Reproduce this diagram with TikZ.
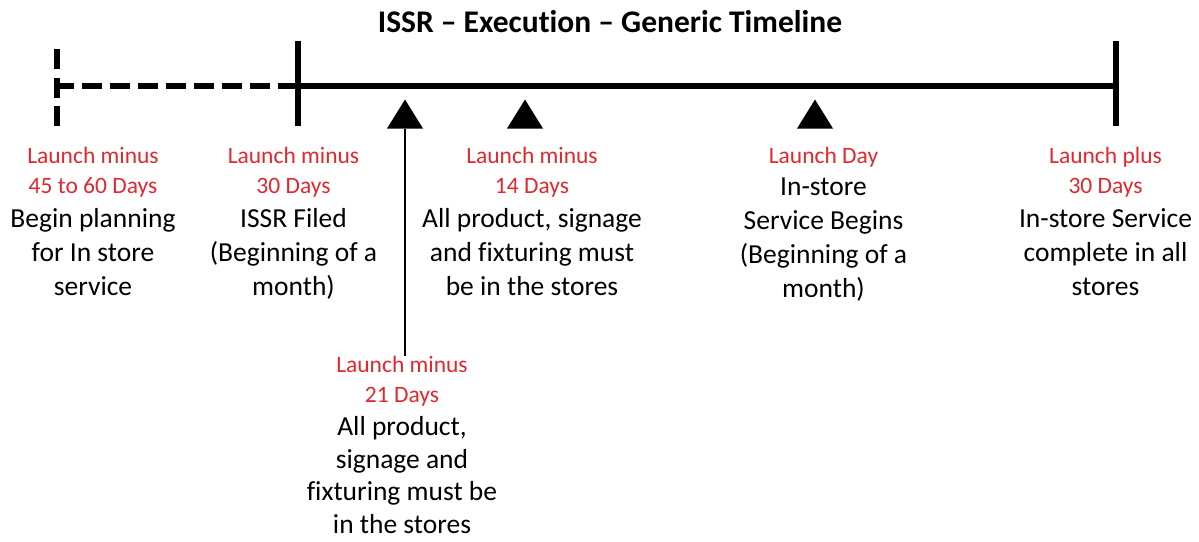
\documentclass[tikz,border=0pt]{standalone}
\usepackage{fontspec}
\setmainfont{Carlito}[Ligatures={TeX,NoCommon}]
\usetikzlibrary{positioning,shapes.geometric}
\definecolor{lred}{HTML}{E0282E}

\begin{document}
\begin{tikzpicture}[x=1pt,y=-1pt,node distance=10.5pt,
  axis/.style={line width=6.5pt},
  marker/.style={isosceles triangle,isosceles triangle stretches,shape border rotate=90,
    fill=black,inner sep=0pt,minimum width=36pt,minimum height=29pt},
  when/.style={text=lred,align=center,inner sep=0pt,font=\fontsize{23.5}{30}\selectfont},
  what/.style={align=center,inner sep=0pt,font=\fontsize{27.5}{34}\selectfont}]
  \useasboundingbox (0,0) rectangle (1199,541);
  \node[font=\bfseries\fontsize{31.5}{36}\selectfont] (title) at (610,22) {ISSR -- Execution -- Generic Timeline};
  % time line
  \draw[axis,dash pattern=on 20pt off 8.5pt] (57,126) -- (57,41);
  \draw[axis,dash pattern=on 20pt off 8pt,dash phase=3pt] (57,86) -- (298,86);
  \draw[axis] (298,86) -- (1116,86);
  \draw[axis] (298,41) -- (298,126);
  \draw[axis] (1116,41) -- (1116,126);
  % markers
  \node[marker] (m21) at (405,118.5) {};
  \node[marker] (m14) at (525,118.5) {};
  \node[marker] (m0) at (815,118.5) {};
  % milestones
  \node[when,anchor=north] (l45) at (93,147) {Launch minus\\45 to 60 Days};
  \node[what,below=of l45] (d45) {Begin planning\\for In store\\service};
  \node[when,anchor=north] (l30) at (293.5,147) {Launch minus\\30 Days};
  \node[what,below=of l30] (d30) {ISSR Filed\\(Beginning of a\\month)};
  \node[when,anchor=north] (l14) at (532,147) {Launch minus\\14 Days};
  \node[what,below=of l14] (d14) {All product, signage\\and fixturing must\\be in the stores};
  \node[when,anchor=north] (l0) at (823.5,147) {Launch Day};
  \node[what,below=of l0] (d0) {In-store\\Service Begins\\(Beginning of a\\month)};
  \node[when,anchor=north] (lp30) at (1105.5,147) {Launch plus\\30 Days};
  \node[what,below=of lp30] (dp30) {In-store Service\\complete in all\\stores};
  \node[when,anchor=north] (l21) at (402,356) {Launch minus\\21 Days};
  \node[what,below=10pt of l21,font=\fontsize{27.5}{32.5}\selectfont] (d21) {All product,\\signage and\\fixturing must be\\in the stores};
  \draw[line width=2pt] (m21.south) -- (m21.south |- l21.north);
\end{tikzpicture}
\end{document}
